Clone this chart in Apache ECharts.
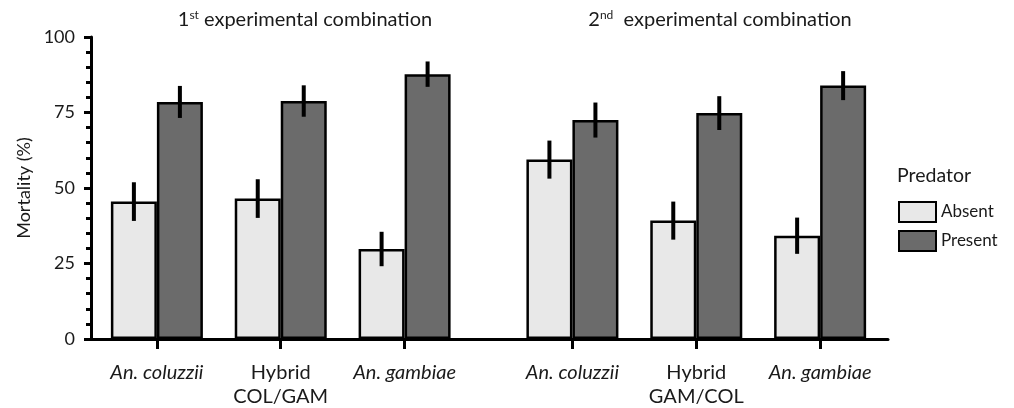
<!DOCTYPE html>
<html>
<head>
<meta charset="utf-8">
<script src="https://cdn.jsdelivr.net/npm/echarts@6/dist/echarts.min.js"></script>
<style>html,body{margin:0;padding:0;background:#fff}#c{width:1014px;height:408px}</style>
</head>
<body>
<div id="c"></div>
<script>
// ---- data ----
const categories = ['An. coluzzii', 'Hybrid\nCOL/GAM', 'An. gambiae', 'An. coluzzii', 'Hybrid\nGAM/COL', 'An. gambiae'];
const italicCat = [true, false, true, true, false, true];
const combination = [1, 1, 1, 2, 2, 2];
const absentMean = [45.5, 46.5, 29.8, 59.4, 39.2, 34.2];
const absentErr = [6.4, 6.4, 5.7, 6.3, 6.3, 6.0];
const presentMean = [78.5, 78.8, 87.7, 72.5, 74.8, 83.9];
const presentErr = [5.3, 5.2, 4.2, 5.8, 5.6, 4.8];
const yTicks = [0, 25, 50, 75, 100];

// ---- layout constants ----
const GAP_EXTRA = 0.355;
const BAR_W = 46;
const FONT = 'Lato, "Open Sans", sans-serif';
const TXT = '#1a1a1a';

const xPos = categories.map((c, i) => i + (combination[i] === 2 ? GAP_EXTRA : 0));
const labelFor = v => {
  const i = xPos.findIndex(p => Math.abs(p - v) < 1e-6);
  if (i < 0) return '';
  if (italicCat[i]) return '{i|' + categories[i] + '}';
  return categories[i].split('\n').map(s => '{n|' + s + '}').join('\n');
};

function errSeries(name, means, errs, dir) {
  return {
    type: 'custom',
    name: name + ' err',
    z: 5,
    silent: true,
    encode: { x: 0, y: [1, 2] },
    data: means.map((m, i) => [xPos[i], m - errs[i], m + errs[i]]),
    renderItem: function (params, api) {
      const lo = api.coord([api.value(0), api.value(1)]);
      const hi = api.coord([api.value(0), api.value(2)]);
      const x = lo[0] + dir * BAR_W / 2;
      return {
        type: 'line',
        shape: { x1: x, y1: hi[1], x2: x, y2: lo[1] },
        style: { stroke: '#000', lineWidth: 4 }
      };
    }
  };
}

const supRich = { s: { fontFamily: FONT, fontSize: 12, verticalAlign: 'top', padding: [0, 0, 9, 0], color: TXT } };

const chart = echarts.init(document.getElementById('c'), null, { renderer: 'canvas' });
chart.setOption({
  animation: false,
  textStyle: { fontFamily: FONT },
  title: [
    {
      text: '1{s|st} experimental combination',
      left: 300, top: 4, textAlign: 'center',
      textStyle: { fontFamily: FONT, fontSize: 20, fontWeight: 'normal', color: TXT, rich: supRich }
    },
    {
      text: '2{s|nd}  experimental combination',
      left: 715, top: 4, textAlign: 'center',
      textStyle: { fontFamily: FONT, fontSize: 20, fontWeight: 'normal', color: TXT, rich: supRich }
    },
    {
      text: 'Predator', left: 892, top: 161,
      textStyle: { fontFamily: FONT, fontSize: 19.5, fontWeight: 'normal', color: TXT }
    }
  ],
  legend: {
    data: ['Absent', 'Present'],
    orient: 'vertical',
    left: 893, top: 196,
    itemWidth: 37, itemHeight: 20, itemGap: 7,
    icon: 'rect',
    textStyle: { fontFamily: FONT, fontSize: 17, color: TXT }
  },
  grid: { left: 91, right: 126, top: 37, bottom: 69 },
  xAxis: {
    type: 'value',
    min: -0.532, max: 5.903,
    splitLine: { show: false },
    axisLine: { show: true, onZero: false, lineStyle: { color: '#000', width: 3 } },
    axisTick: { show: true, customValues: xPos, length: 10, lineStyle: { color: '#000', width: 3 } },
    axisLabel: {
      customValues: xPos, margin: 22, formatter: labelFor, color: TXT,
      rich: {
        i: { fontFamily: FONT, fontSize: 20, fontStyle: 'italic', color: TXT, lineHeight: 24 },
        n: { fontFamily: FONT, fontSize: 20, color: TXT, lineHeight: 24 }
      }
    }
  },
  yAxis: {
    type: 'value', min: 0, max: 100, interval: 25,
    name: 'Mortality (%)', nameLocation: 'middle', nameGap: 55, nameRotate: 90,
    nameTextStyle: { fontFamily: FONT, fontSize: 18, color: TXT },
    splitLine: { show: false },
    axisLine: { show: true, onZero: false, lineStyle: { color: '#000', width: 3 } },
    axisTick: { show: true, length: 7, lineStyle: { color: '#000', width: 3 } },
    minorTick: { show: true, splitNumber: 5, length: 5, lineStyle: { color: '#000', width: 3 } },
    axisLabel: { fontFamily: FONT, fontSize: 18, color: TXT, margin: 16 }
  },
  series: [
    {
      name: 'Absent', type: 'bar', barWidth: BAR_W, barGap: '0%',
      data: absentMean.map((v, i) => [xPos[i], v]),
      itemStyle: { color: '#e8e8e8', borderColor: '#000', borderWidth: 2.5 }
    },
    {
      name: 'Present', type: 'bar', barWidth: BAR_W, barGap: '0%',
      data: presentMean.map((v, i) => [xPos[i], v]),
      itemStyle: { color: '#6b6b6b', borderColor: '#000', borderWidth: 2.5 }
    },
    errSeries('Absent', absentMean, absentErr, -1),
    errSeries('Present', presentMean, presentErr, 1)
  ]
});
</script>
</body>
</html>
